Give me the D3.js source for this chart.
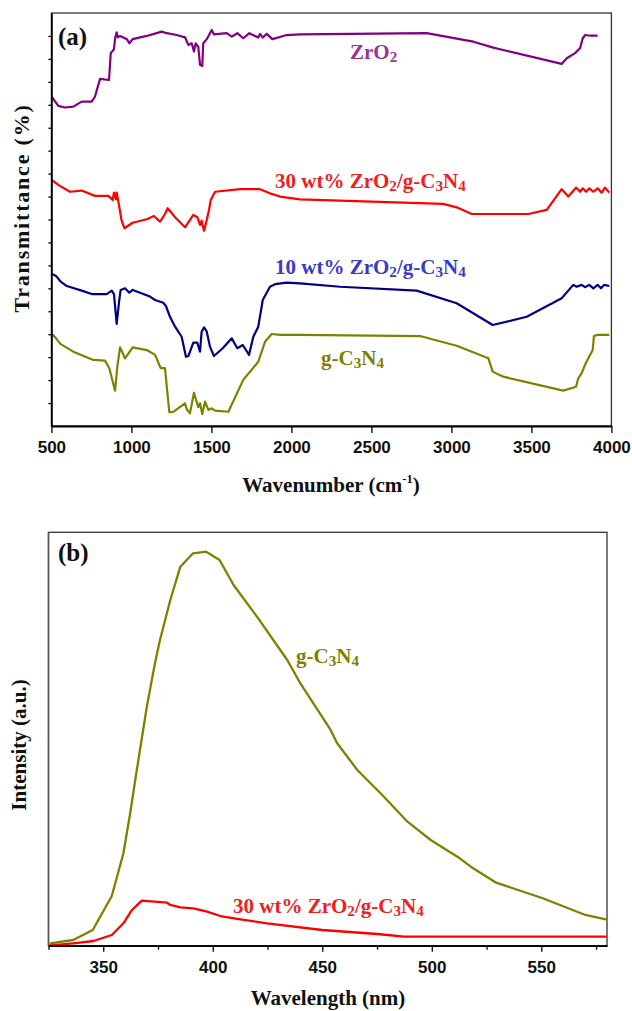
<!DOCTYPE html>
<html>
<head>
<meta charset="utf-8">
<script src="https://cdn.jsdelivr.net/npm/d3@7"></script>
<style>html,body{margin:0;padding:0;background:#fff;}</style>
</head>
<body>
<svg id="fig" width="632" height="1011"></svg>
<script>
// ---------- (a) FTIR spectra: wavenumber (cm^-1) vs. transmittance (offset, arb. units) ----------
const zro2Wavenumber = [504,543,585,637,689,752,772,804,860,871,891,898,908,914,929,972,987,1008,1096,1189,1221,1283,1335,1356,1377,1391,1402,1418,1429,1443,1449,1471,1502,1516,1596,1627,1662,1699,1737,1793,1804,1821,1846,1881,1971,2054,2846,2991,3137,3262,3304,3689,3721,3773,3804,3821,3836,3867,3914];
const zro2Transmittance = [14.33,13.95,13.88,13.92,14.14,14.14,14.35,15.13,15.08,16.25,16.42,16.90,17.16,16.94,17.00,16.86,16.68,16.86,17.00,17.19,17.12,17.04,16.94,16.61,16.68,16.32,16.68,16.53,15.74,15.69,16.68,16.86,17.26,17.07,17.12,16.97,17.12,16.90,17.12,16.93,17.09,16.93,17.09,16.86,17.04,17.07,17.12,16.94,16.75,16.49,16.42,15.78,16.03,16.25,16.46,16.90,17.04,17.01,17.01];

const zr30Wavenumber = [504,543,616,689,772,856,883,891,904,908,924,938,956,1008,1096,1141,1179,1210,1227,1273,1335,1387,1412,1429,1439,1454,1471,1485,1496,1523,1679,1804,1866,1929,2054,2949,3033,3127,3481,3596,3689,3731,3779,3804,3821,3841,3862,3887,3914,3939,3960,3987];
const zr30Transmittance = [10.72,10.51,10.21,10.26,10.03,10.03,9.85,10.17,9.88,10.17,9.56,8.98,8.62,8.86,9.01,9.15,8.91,9.24,9.49,9.10,8.66,9.20,9.10,8.76,8.95,8.51,8.98,9.42,9.85,10.21,10.32,10.32,10.14,10.00,9.88,9.68,9.53,9.24,9.24,9.42,10.32,10.00,10.39,10.21,10.36,10.21,10.36,10.21,10.36,10.17,10.39,10.17];

const zr10Wavenumber = [504,529,558,596,689,752,846,877,891,908,924,933,960,987,1008,1054,1116,1148,1199,1216,1241,1273,1314,1341,1356,1387,1412,1429,1439,1454,1471,1491,1516,1571,1627,1662,1696,1735,1762,1793,1821,1866,1898,1971,2054,2304,2783,3033,3258,3471,3689,3762,3783,3814,3835,3862,3887,3914,3935,3954,3987];
const zr10Transmittance = [6.63,6.54,6.29,6.10,5.90,5.75,5.75,5.90,5.75,4.45,5.49,5.93,6.00,5.81,5.93,5.81,5.64,5.49,5.37,5.23,4.76,4.33,3.89,3.02,3.05,3.63,3.63,3.24,4.11,4.30,4.11,3.46,3.05,3.39,3.82,3.39,3.53,3.10,3.89,4.33,5.49,6.07,6.18,6.25,6.22,6.07,5.90,5.35,4.40,4.76,5.57,6.15,6.07,6.15,6.05,6.15,6.00,6.15,6.00,6.15,6.10];

const gcnWavenumber = [504,529,558,637,762,835,862,898,912,929,960,1008,1096,1148,1183,1210,1237,1262,1335,1346,1366,1391,1418,1429,1443,1460,1481,1502,1523,1606,1699,1793,1835,1877,1929,2054,2804,3033,3231,3258,3324,3699,3779,3793,3814,3841,3883,3891,3914,3987];
const gcnTransmittance = [4.01,3.82,3.57,3.24,2.88,2.85,2.52,1.54,2.59,3.43,2.95,3.43,3.31,3.10,2.52,2.52,0.60,0.62,0.99,0.73,0.55,1.45,0.82,0.99,0.52,1.06,0.70,0.77,0.67,0.62,2.01,2.80,3.67,4.01,3.97,3.97,3.92,3.50,2.95,2.37,2.15,1.54,1.71,2.08,2.30,2.76,3.31,3.92,3.97,3.97];

const wavenumberTicks = [500,1000,1500,2000,2500,3000,3500,4000];
const transmittanceTicks = [1,2,3,4,5,6,7,8,9,10,11,12,13,14,15,16,17];

// ---------- (b) PL spectra: wavelength (nm) vs. intensity (a.u.) ----------
const gcnWavelength = [325.7,336.3,345.2,353.9,359.2,362.3,364.6,369.9,373.3,375.7,380.6,385.2,391.0,397.0,403.1,409.5,420.2,434.0,440.0,453.8,456.8,466.0,477.4,488.9,499.5,511.7,517.8,529.4,550.7,570.1,580];
const gcnIntensity = [0.58,1.38,3.80,12.02,22.35,32.03,40.08,57.81,67.49,73.54,83.62,91.68,94.92,95.31,93.30,87.25,79.58,69.11,63.47,52.18,48.96,42.50,36.45,30.00,25.57,21.53,19.11,15.24,11.47,7.43,6.30];

const zr30Wavelength = [325,336.3,345.5,353.9,359.2,363.1,367.6,379.1,380.6,385.2,391.2,397.4,403.5,412.6,424.8,450.0,475.1,487.3,580];
const zr30Intensity = [0,0.58,1.14,2.59,5.42,8.64,10.89,10.40,9.85,9.29,9.05,8.22,7.18,6.39,5.42,3.80,2.83,2.18,2.18];

const wavelengthMajorTicks = [350,400,450,500,550];
const wavelengthMinorTicks = [325,375,425,475,525,575];

// ---------- drawing ----------
const SERIF = "'Liberation Serif','Times New Roman',serif";
const SANS = "'Liberation Sans',Arial,sans-serif";

const svg = d3.select("#fig");
svg.append("rect").attr("width", 632).attr("height", 1011).attr("fill", "#fff");

// text with sub/superscript parts: [string, "sub"|"sup"|undefined]
function richText(parent, x, y, parts, size, color, anchor) {
  const t = parent.append("text")
    .attr("x", x).attr("y", y)
    .attr("font-family", SERIF).attr("font-weight", "bold")
    .attr("font-size", size).attr("fill", color)
    .attr("text-anchor", anchor || "start");
  let shift = 0;
  parts.forEach(([s, kind]) => {
    const ts = t.append("tspan").text(s);
    let target = 0;
    if (kind === "sub") { target = size * 0.16; ts.attr("font-size", size * 0.72); }
    if (kind === "sup") { target = -size * 0.42; ts.attr("font-size", size * 0.6); }
    if (target !== shift) ts.attr("dy", target - shift);
    shift = target;
  });
  return t;
}

function styleAxis(g, lineWidth) {
  g.select(".domain").attr("stroke", "#000").attr("stroke-width", lineWidth);
  g.selectAll(".tick line").attr("stroke", "#000").attr("stroke-width", 1.3);
  g.selectAll(".tick text")
    .attr("font-family", SANS).attr("font-weight", "bold")
    .attr("font-size", 17).attr("fill", "#111");
}

// ===== Panel (a) =====
const xA = d3.scaleLinear().domain([500, 4000]).range([51.4, 611.4]);
const yA = d3.scaleLinear().domain([0, 18]).range([426, 13]);
const gA = svg.append("g");

gA.append("rect")
  .attr("x", xA(500)).attr("y", yA(18))
  .attr("width", xA(4000) - xA(500)).attr("height", yA(0) - yA(18))
  .attr("fill", "none").attr("stroke", "#333").attr("stroke-width", 1.3);

const lineA = d3.line().x(d => xA(d[0])).y(d => yA(d[1]));
const ftirSeries = [
  { wn: zro2Wavenumber, t: zro2Transmittance, color: "#800080" },
  { wn: zr30Wavenumber, t: zr30Transmittance, color: "#ff0000" },
  { wn: zr10Wavenumber, t: zr10Transmittance, color: "#000080" },
  { wn: gcnWavenumber, t: gcnTransmittance, color: "#808000" }
];
ftirSeries.forEach(s => {
  gA.append("path")
    .datum(d3.zip(s.wn, s.t))
    .attr("d", lineA)
    .attr("fill", "none").attr("stroke", s.color)
    .attr("stroke-width", 2.2).attr("stroke-linejoin", "round");
});

const axA = gA.append("g").attr("transform", `translate(0,${yA(0)})`)
  .call(d3.axisBottom(xA).tickValues(wavenumberTicks).tickFormat(d3.format("d"))
    .tickSize(7).tickSizeOuter(0).tickPadding(8));
styleAxis(axA, 1.8);

const ayA = gA.append("g").attr("transform", `translate(${xA(500)},0)`)
  .call(d3.axisLeft(yA).tickValues(transmittanceTicks).tickFormat("")
    .tickSize(3).tickSizeOuter(0));
styleAxis(ayA, 1.8);

richText(gA, 58, 45, [["(a)"]], 25, "#111");
richText(gA, 350, 59, [["ZrO"], ["2", "sub"]], 21, "#993399");
richText(gA, 275, 188, [["30 wt% ZrO"], ["2", "sub"], ["/g-C"], ["3", "sub"], ["N"], ["4", "sub"]], 21, "#f02020");
richText(gA, 275, 274, [["10 wt% ZrO"], ["2", "sub"], ["/g-C"], ["3", "sub"], ["N"], ["4", "sub"]], 21, "#3a3ac8");
richText(gA, 321, 365, [["g-C"], ["3", "sub"], ["N"], ["4", "sub"]], 21, "#808000");

richText(gA, 331, 492, [["Wavenumber (cm"], ["-1", "sup"], [")"]], 21, "#111", "middle");
richText(gA, 0, 0, [["Transmittance (%)"]], 22, "#111", "middle")
  .attr("letter-spacing", 1.8)
  .attr("transform", "translate(29,208) rotate(-90)");

// ===== Panel (b) =====
const xB = d3.scaleLinear().domain([325, 580]).range([48.5, 607]);
const yB = d3.scaleLinear().domain([0, 100]).range([945.7, 532.3]);
const gB = svg.append("g");

gB.append("rect")
  .attr("x", xB(325)).attr("y", yB(100))
  .attr("width", xB(580) - xB(325)).attr("height", yB(0) - yB(100))
  .attr("fill", "none").attr("stroke", "#333").attr("stroke-width", 1.3);

const lineB = d3.line().x(d => xB(d[0])).y(d => yB(d[1]));
const plSeries = [
  { wl: gcnWavelength, v: gcnIntensity, color: "#808000" },
  { wl: zr30Wavelength, v: zr30Intensity, color: "#ff0000" }
];
plSeries.forEach(s => {
  gB.append("path")
    .datum(d3.zip(s.wl, s.v))
    .attr("d", lineB)
    .attr("fill", "none").attr("stroke", s.color)
    .attr("stroke-width", 2.3).attr("stroke-linejoin", "round");
});

const axB = gB.append("g").attr("transform", `translate(0,${yB(0)})`)
  .call(d3.axisBottom(xB).tickValues(wavelengthMajorTicks).tickFormat(d3.format("d"))
    .tickSize(6).tickSizeOuter(0).tickPadding(9));
styleAxis(axB, 1.8);
gB.append("g").attr("transform", `translate(0,${yB(0)})`)
  .call(d3.axisBottom(xB).tickValues(wavelengthMinorTicks).tickFormat("")
    .tickSize(4).tickSizeOuter(0))
  .call(g => g.select(".domain").remove())
  .call(g => g.selectAll(".tick line").attr("stroke", "#000").attr("stroke-width", 1.3));

gB.append("line")
  .attr("x1", xB(325)).attr("x2", xB(325))
  .attr("y1", yB(0)).attr("y2", yB(100))
  .attr("stroke", "#555").attr("stroke-width", 1.5);

richText(gB, 58, 561, [["(b)"]], 25, "#111");
richText(gB, 296, 663, [["g-C"], ["3", "sub"], ["N"], ["4", "sub"]], 21, "#808000");
richText(gB, 233, 913, [["30 wt% ZrO"], ["2", "sub"], ["/g-C"], ["3", "sub"], ["N"], ["4", "sub"]], 21, "#f02020");

richText(gB, 328, 1005, [["Wavelength (nm)"]], 21, "#111", "middle");
richText(gB, 0, 0, [["Intensity (a.u.)"]], 21, "#111", "middle")
  .attr("transform", "translate(26,745) rotate(-90)");
</script>
</body>
</html>
